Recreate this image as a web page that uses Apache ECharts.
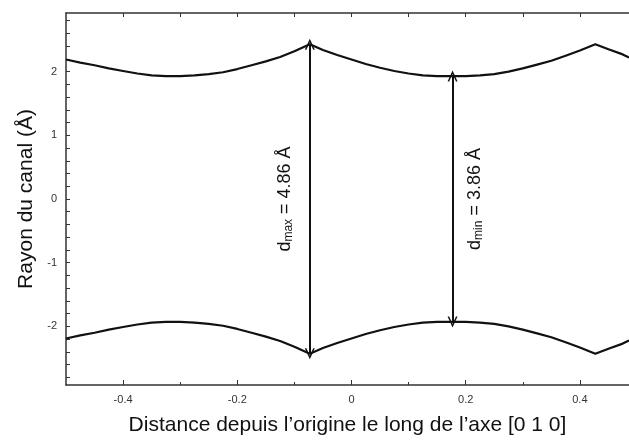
<!DOCTYPE html>
<html>
<head>
<meta charset="utf-8">
<script src="https://cdn.jsdelivr.net/npm/echarts@6/dist/echarts.min.js"></script>
<style>
    html, body { margin: 0; padding: 0; background: #fff; }
    #chart { width: 629px; height: 441px; }
</style>
</head>
<body>
<div id="chart"></div>
<script>
// positions le long de l'axe [0 1 0]
var xPos = [-0.5, -0.475, -0.45, -0.425, -0.4, -0.375, -0.35, -0.325, -0.3, -0.275, -0.25, -0.225,
    -0.2, -0.175, -0.15, -0.125, -0.1, -0.073, -0.05, -0.025, 0, 0.025, 0.05, 0.075, 0.1, 0.125,
    0.15, 0.177, 0.2, 0.225, 0.25, 0.275, 0.3, 0.325, 0.35, 0.375, 0.4, 0.427, 0.45, 0.475, 0.486];
// rayon du canal, paroi haute et paroi basse
var rayonHaut = [2.19, 2.14, 2.10, 2.05, 2.01, 1.97, 1.94, 1.93, 1.93, 1.94, 1.96, 1.99,
    2.04, 2.10, 2.16, 2.23, 2.32, 2.43, 2.34, 2.26, 2.19, 2.12, 2.06, 2.01, 1.97, 1.94,
    1.93, 1.93, 1.93, 1.94, 1.96, 2.00, 2.05, 2.11, 2.17, 2.25, 2.33, 2.43, 2.35, 2.27, 2.22];
var rayonBas = [-2.19, -2.14, -2.10, -2.05, -2.01, -1.97, -1.94, -1.93, -1.93, -1.94, -1.96, -1.99,
    -2.04, -2.10, -2.16, -2.23, -2.32, -2.43, -2.34, -2.26, -2.19, -2.12, -2.06, -2.01, -1.97, -1.94,
    -1.93, -1.93, -1.93, -1.94, -1.96, -2.00, -2.05, -2.11, -2.17, -2.25, -2.33, -2.43, -2.35, -2.27, -2.22];

// graduations
var xLabels = [-0.4, -0.2, 0, 0.2, 0.4];
var xMinorTicks = [-0.3, -0.1, 0.1, 0.3];
var xTopTicks = [-0.4, -0.3, -0.2, -0.1, 0, 0.1, 0.2, 0.3, 0.4];
var yLabels = [-2, -1, 0, 1, 2];
var yTicks = [-2.8, -2.6, -2.4, -2.2, -2, -1.8, -1.6, -1.4, -1.2, -1, -0.8, -0.6, -0.4, -0.2, 0,
    0.2, 0.4, 0.6, 0.8, 1, 1.2, 1.4, 1.6, 1.8, 2, 2.2, 2.4, 2.6, 2.8];

// fleches d_max / d_min
var dMaxX = -0.073, dMaxR = 2.43, dMaxText = '4.86 Å';
var dMinX = 0.177, dMinR = 1.93, dMinText = '3.86 Å';

(function () {
    var myChart = echarts.init(document.getElementById('chart'));
    var police = '"Liberation Sans", Arial, sans-serif';
    var xMin = -0.5, xMax = 0.486, yMin = -2.92, yMax = 2.92;
    // pointe de fleche ouverte
    var chevron = 'path://M0,10 L5,0 L10,10 L8.4,10 L5,3.2 L1.6,10 Z';

    function zip(xs, ys) {
        return xs.map(function (x, i) { return [x, ys[i]]; });
    }

    var richLabel = {
        a: { fontSize: 18, lineHeight: 20, color: '#111', fontFamily: police },
        b: { fontSize: 12, lineHeight: 12, verticalAlign: 'bottom', color: '#111', fontFamily: police }
    };

    function fleche(x, r, nom, texte, cote, dist) {
        var label = {
            show: true,
            position: cote,
            distance: dist,
            formatter: '{a|d}{b|' + nom + '}{a| = ' + texte + '}',
            rich: richLabel
        };
        return [
            { coord: [x, -r], label: label },
            { coord: [x, r], label: label }
        ];
    }

    var axeCommun = {
        type: 'value',
        min: xMin,
        max: xMax,
        splitLine: { show: false }
    };

    var option = {
        animation: false,
        backgroundColor: '#fff',
        grid: { left: 66, right: 0, top: 13, bottom: 54 },
        xAxis: [
            Object.assign({}, axeCommun, {
                position: 'bottom',
                name: 'Distance depuis l\u2019origine le long de l\u2019axe [0 1 0]',
                nameLocation: 'middle',
                nameGap: 30,
                nameTextStyle: { fontSize: 21, color: '#111', fontFamily: police },
                axisLine: { show: true, onZero: false, lineStyle: { color: '#333', width: 1.5 } },
                axisTick: { show: true, inside: true, length: 5, customValues: xLabels,
                    lineStyle: { color: '#333' } },
                axisLabel: { customValues: xLabels, fontSize: 11, color: '#333', margin: 9,
                    fontFamily: police }
            }),
            Object.assign({}, axeCommun, {
                position: 'bottom',
                axisLine: { show: false, onZero: false },
                axisTick: { show: true, inside: true, length: 3, customValues: xMinorTicks,
                    lineStyle: { color: '#333' } },
                axisLabel: { show: false }
            }),
            Object.assign({}, axeCommun, {
                position: 'top',
                axisLine: { show: true, onZero: false, lineStyle: { color: '#333', width: 1.5 } },
                axisTick: { show: true, inside: true, length: 4, customValues: xTopTicks,
                    lineStyle: { color: '#333' } },
                axisLabel: { show: false }
            })
        ],
        yAxis: {
            type: 'value',
            min: yMin,
            max: yMax,
            name: 'Rayon du canal (Å)',
            nameLocation: 'middle',
            nameGap: 29,
            nameTextStyle: { fontSize: 21, color: '#111', fontFamily: police },
            splitLine: { show: false },
            axisLine: { show: true, onZero: false, lineStyle: { color: '#333', width: 1.5 } },
            axisTick: { show: true, inside: true, length: 4, customValues: yTicks,
                lineStyle: { color: '#333' } },
            axisLabel: { customValues: yLabels, fontSize: 11, color: '#333', margin: 9,
                fontFamily: police }
        },
        series: [
            {
                name: 'haut',
                type: 'line',
                data: zip(xPos, rayonHaut),
                showSymbol: false,
                lineStyle: { color: '#111', width: 2.2 },
                markLine: {
                    silent: true,
                    symbol: [chevron, chevron],
                    symbolSize: [10, 11],
                    lineStyle: { color: '#111', width: 2, type: 'solid' },
                    itemStyle: { color: '#111' },
                    data: [
                        fleche(dMaxX, dMaxR, 'max', dMaxText, 'insideMiddleTop', 15),
                        fleche(dMinX, dMinR, 'min', dMinText, 'insideMiddleBottom', 12)
                    ]
                }
            },
            {
                name: 'bas',
                type: 'line',
                data: zip(xPos, rayonBas),
                showSymbol: false,
                lineStyle: { color: '#111', width: 2.2 }
            }
        ]
    };

    myChart.setOption(option);
    window.addEventListener('resize', function () {
        myChart.resize();
    });
})();
</script>
</body>
</html>
